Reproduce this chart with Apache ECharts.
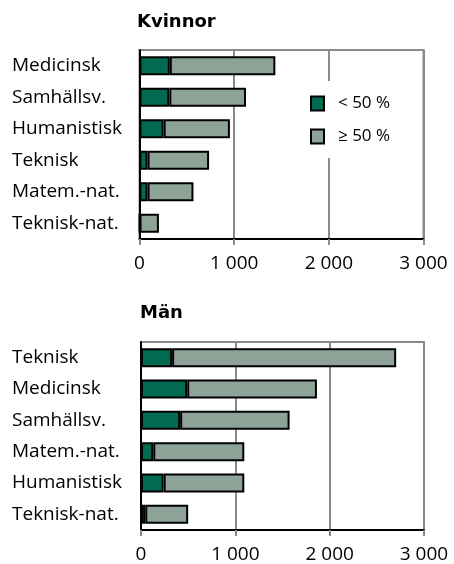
<!DOCTYPE html>
<html><head><meta charset="utf-8">
<script src="https://cdn.jsdelivr.net/npm/echarts@6/dist/echarts.min.js"></script>
<style>html,body{margin:0;padding:0;background:#fff}#c{width:454px;height:564px}</style>
</head><body><div id="c"></div>
<script>
const seriesNames = ['< 50 %', '≥ 50 %'];
const kvCategories = ['Medicinsk', 'Samhällsv.', 'Humanistisk', 'Teknisk', 'Matem.-nat.', 'Teknisk-nat.'];
const kvLow = [320, 315, 255, 85, 85, 0];
const kvTotal = [1435, 1125, 955, 735, 570, 205];
const manCategories = ['Teknisk', 'Medicinsk', 'Samhällsv.', 'Matem.-nat.', 'Humanistisk', 'Teknisk-nat.'];
const manLow = [330, 490, 415, 130, 240, 45];
const manTotal = [2705, 1865, 1575, 1095, 1095, 500];
const xTicks = [0, 1000, 2000, 3000];
const titles = ['Kvinnor', 'Män'];

const DARK = '#036a52', LIGHT = '#8da398', GRIDC = '#8a8a8a';
const FONT = '"Open Sans"';
const TFONT = '"DejaVu Sans"';
const fmt = v => String(v).replace(/\B(?=(\d{3})+(?!\d))/g, ' ');

const grids = [
  {left: 139.5, right: 30.5, top: 50, height: 189},
  {left: 141, right: 30, top: 342, height: 189}
];
function xAx(i){
  return {gridIndex: i, type: 'value', min: xTicks[0], max: xTicks[xTicks.length-1], interval: 1000,
    axisLine: {show: true, lineStyle: {color: '#000', width: 2}},
    axisTick: {show: true, length: 6, lineStyle: {color: GRIDC, width: 2}},
    splitLine: {show: true, lineStyle: {color: GRIDC, width: 2}},
    axisLabel: {color: '#000', fontFamily: FONT, fontSize: 19, margin: 15, formatter: fmt}};
}
function yAx(i, cats){
  return {gridIndex: i, type: 'category', data: cats, inverse: true,
    axisLine: {show: true, lineStyle: {color: '#000', width: 2}},
    axisTick: {show: false},
    axisLabel: {color: '#000', fontFamily: FONT, fontSize: 19, align: 'left', margin: grids[i].left - 12,
      padding: [4, 0, 0, 0]}};
}
const rest = (low, tot) => tot.map((t, k) => t - low[k]);
function bars(i, low, tot){
  return [
    {name: seriesNames[0], type: 'bar', stack: 's'+i, xAxisIndex: i, yAxisIndex: i, data: low, barWidth: 19,
      itemStyle: {color: DARK, borderColor: '#000', borderWidth: 2}},
    {name: seriesNames[1], type: 'bar', stack: 's'+i, xAxisIndex: i, yAxisIndex: i, data: rest(low, tot), barWidth: 19,
      itemStyle: {color: LIGHT, borderColor: '#000', borderWidth: 2}}
  ];
}
const chart = echarts.init(document.getElementById('c'), null, {renderer: 'canvas'});
chart.setOption({
  animation: false,
  title: [
    {text: titles[0], left: 132, top: 8, textStyle: {fontFamily: TFONT, fontSize: 18, fontWeight: 'bold', color: '#000'}},
    {text: titles[1], left: 135, top: 299, textStyle: {fontFamily: TFONT, fontSize: 18, fontWeight: 'bold', color: '#000'}}
  ],
  legend: {data: seriesNames, orient: 'vertical', left: 300, top: 81, padding: [14, 20, 13, 10],
    backgroundColor: '#fff', itemWidth: 13, itemHeight: 14, itemGap: 16, icon: 'rect',
    textStyle: {fontFamily: FONT, fontSize: 17, color: '#000', padding: [0, 0, 0, 9]}},
  grid: grids.map(g => Object.assign({show: true, borderColor: GRIDC, borderWidth: 2, backgroundColor: 'transparent'}, g)),
  xAxis: [xAx(0), xAx(1)],
  yAxis: [yAx(0, kvCategories), yAx(1, manCategories)],
  series: [...bars(0, kvLow, kvTotal), ...bars(1, manLow, manTotal)]
});
</script></body></html>
